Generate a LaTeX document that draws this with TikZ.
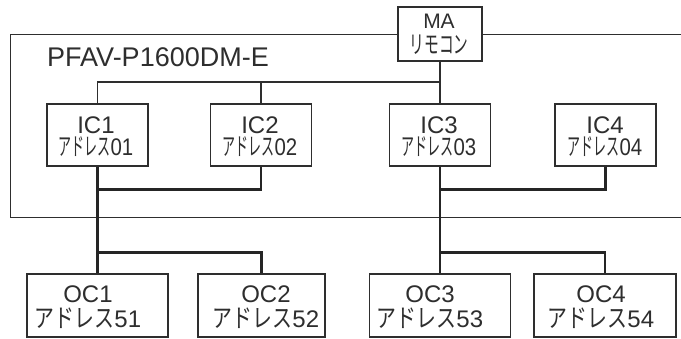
\documentclass[tikz,border=0pt]{standalone}
\usepackage{fontspec}
\setmainfont{Liberation Sans}
\newfontfamily\jpa[FakeStretch=0.53]{Noto Sans CJK JP}
\newfontfamily\jpb[FakeStretch=0.78]{Noto Sans CJK JP}
\newfontfamily\jpm[FakeStretch=0.6]{Noto Sans CJK JP}
\newfontfamily\digc[FakeStretch=0.85]{Liberation Sans}
\newcommand\kaA[1]{{\jpa\fontsize{24.5}{24.5}\selectfont #1}}
\newcommand\kaB[1]{{\jpb\fontsize{25.5}{25.5}\selectfont #1}}
\newcommand\kaM[1]{{\jpm\fontsize{24.5}{24.5}\selectfont #1}}
\newcommand\dgA[1]{{\digc\fontsize{24}{24}\selectfont #1}}
\definecolor{linec}{gray}{0.18}
\begin{document}
\begin{tikzpicture}[x=1pt,y=-1pt,
  box/.style={draw=linec, line width=1.2pt, fill=white, inner sep=0pt},
  thinline/.style={draw=linec, line width=1.1pt},
  thickline/.style={draw=linec!80!black, line width=2.8pt, line join=miter},
  txt/.style={inner sep=0pt, align=center, text=linec, anchor=base},
  ictxt/.style={txt, font=\fontsize{24}{22}\selectfont},
  octxt/.style={txt, font=\fontsize{24}{25}\selectfont}]
\useasboundingbox (0,0) rectangle (681,338);
% outer frame
\draw[thinline] (681,34.7) -| (10.5,217.5) -- (681,217.5);
% boxes
\node[box, minimum width=84pt, minimum height=54pt] (ma) at (440,34) {};
\node[box, minimum width=101pt, minimum height=62pt] (ic1) at (97.5,135) {};
\node[box, minimum width=101pt, minimum height=62pt] (ic2) at (261,135) {};
\node[box, minimum width=101pt, minimum height=62pt] (ic3) at (440,135) {};
\node[box, minimum width=101pt, minimum height=62pt] (ic4) at (605.5,135) {};
\node[box, minimum width=141pt, minimum height=63pt] (oc1) at (97.5,305.5) {};
\node[box, minimum width=127pt, minimum height=63pt] (oc2) at (261.5,305.5) {};
\node[box, minimum width=141pt, minimum height=63pt] (oc3) at (440,305.5) {};
\node[box, minimum width=142pt, minimum height=63pt] (oc4) at (605,305.5) {};
% texts
\node[txt, anchor=base west, font=\fontsize{27}{27}\selectfont] (title) at (47,66) {PFAV-P1600DM-E};
\node[txt, font=\fontsize{21}{25}\selectfont] (mat) at (439,53) {MA\\\kaM{リモコン}};
\node[ictxt] (ic1t) at (96,155) {IC1\\\kaA{アドレス}\dgA{01}};
\node[ictxt] (ic2t) at (260,155) {IC2\\\kaA{アドレス}\dgA{02}};
\node[ictxt] (ic3t) at (439,155) {IC3\\\kaA{アドレス}\dgA{03}};
\node[ictxt] (ic4t) at (605,155) {IC4\\\kaA{アドレス}\dgA{04}};
\node[octxt] (oc1t) at (88,327) {OC1\\\kaB{アドレス}51};
\node[octxt] (oc2t) at (266,327) {OC2\\\kaB{アドレス}52};
\node[octxt] (oc3t) at (430,327) {OC3\\\kaB{アドレス}53};
\node[octxt] (oc4t) at (601,327) {OC4\\\kaB{アドレス}54};
% thin transmission lines
\coordinate (tb) at (97.5,82);
\draw[thinline] (ic1.north) |- (tb) -| (ma.south);
\draw[thinline] (ma.south) -- (ic3.north);
\draw[thinline] (ic2.north) -- (ic2.north |- tb);
% thick lines
\coordinate (b1) at (97.5,189.3);
\coordinate (b2) at (97.5,252.5);
\coordinate (b3) at (440,189.3);
\coordinate (b4) at (440,252.5);
\draw[thickline] (ic1.south) -- (oc1.north);
\draw[thickline] (ic2.south) |- (b1);
\draw[thickline] (oc2.north) |- (b2);
\draw[thickline] (ic3.south) -- (oc3.north);
\draw[thickline] (ic4.south) |- (b3);
\draw[thickline] (oc4.north) |- (b4);
\end{tikzpicture}
\end{document}
